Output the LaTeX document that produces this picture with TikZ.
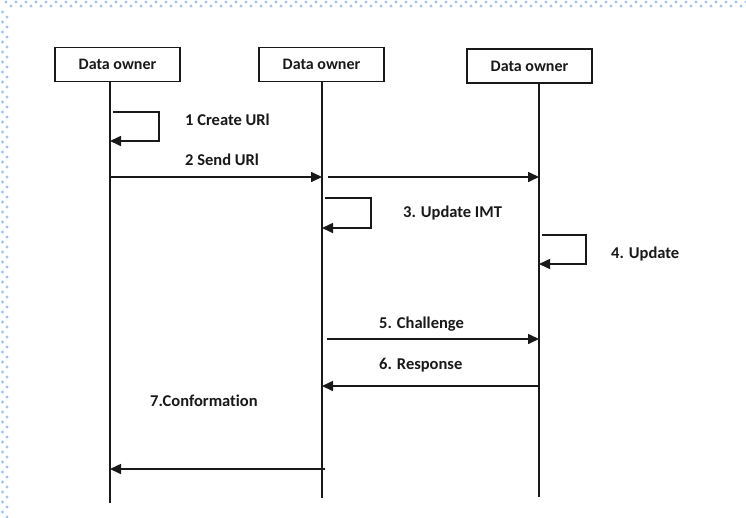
\documentclass[tikz,border=0pt]{standalone}
\usepackage{fontspec}
\setmainfont{Carlito}[Ligatures=NoCommon]
\usetikzlibrary{arrows.meta,calc}
\definecolor{dotblue}{RGB}{160,196,238}
\definecolor{ink}{RGB}{25,25,25}
\tikzset{
  actor/.style={draw=ink, line width=1.6pt, fill=white, minimum width=125pt,
    minimum height=34pt, inner sep=0pt, font=\fontsize{16}{18}\selectfont\bfseries, text=ink},
  lifeline/.style={draw=ink, line width=1.8pt},
  msg/.style={draw=ink, line width=1.6pt, -{Triangle[length=11pt,width=10pt]}},
  lbl/.style={anchor=west, inner sep=0pt, font=\fontsize{16.5}{18}\selectfont\bfseries, text=ink},
  edgedot/.style={fill=dotblue, draw=none}
}
\begin{document}
\begin{tikzpicture}[x=1pt,y=-1pt]
\useasboundingbox (0,0) rectangle (746,517);
\fill[white] (0,0) rectangle (746,517);

% dotted frame along the top and left edges
\foreach \k in {0,...,148} {
  \pgfmathsetmacro{\yy}{mod(\k,2)==0 ? 2 : 6}
  \fill[edgedot] (6+5*\k,\yy) circle (1.6);
}
\foreach \k in {0,...,101} {
  \pgfmathsetmacro{\xx}{mod(\k,2)==0 ? 2.5 : 7}
  \fill[edgedot] (\xx,12+5*\k) circle (1.6);
}

% participants
\node[actor] (o1) at (117.5,64.5) {Data owner};
\node[actor] (o2) at (321.5,64.5) {Data owner};
\node[actor] (o3) at (529.5,66)   {Data owner};

% lifeline ends
\coordinate (e1) at (110,503);
\coordinate (e2) at (322,498);
\coordinate (e3) at (539,497);
\draw[lifeline] (o1.south -| e1) -- (e1);
\draw[lifeline] (o2.south -| e2) -- (e2);
\draw[lifeline] (o3.south -| e3) -- (e3);

% 1: self call on the first lifeline
\coordinate (s1a) at (113,112);
\coordinate (s1b) at (110,141);
\draw[msg] (s1a) -- (159,112) -- (159,141) -- (s1b);
\node[lbl] (m1) at (185,120) {1 Create URl};

% 2: send URl across both lifelines
\coordinate (a1) at (110,177);
\coordinate (a2) at (322,177);
\coordinate (a2b) at (328,177);
\coordinate (a3) at (539,177);
\draw[msg] (a1) -- (a2);
\draw[msg] (a2b) -- (a3);
\node[lbl] (m2) at (185,160) {2 Send URl};

% 3: self call on the second lifeline
\coordinate (s2a) at (325,198);
\coordinate (s2b) at (322,228);
\draw[msg] (s2a) -- (371,198) -- (371,228) -- (s2b);
\node[lbl] (m3) at (403,213) {3. Update IMT};

% 4: self call on the third lifeline
\coordinate (s3a) at (542,235);
\coordinate (s3b) at (539,264);
\draw[msg] (s3a) -- (586,235) -- (586,264) -- (s3b);
\node[lbl] (m4) at (611,254) {4. Update};

% 5: challenge
\coordinate (c2) at (327,339);
\coordinate (c3) at (539,339);
\draw[msg] (c2) -- (c3);
\node[lbl] (m5) at (379,324) {5. Challenge};

% 6: response
\coordinate (r3) at (539,386);
\coordinate (r2) at (322,386);
\draw[msg] (r3) -- (r2);
\node[lbl] (m6) at (379,365) {6. Response};

% 7: conformation
\coordinate (f2) at (325,469);
\coordinate (f1) at (110,469);
\draw[msg] (f2) -- (f1);
\node[lbl] (m7) at (150,401) {7.Conformation};
\end{tikzpicture}
\end{document}
